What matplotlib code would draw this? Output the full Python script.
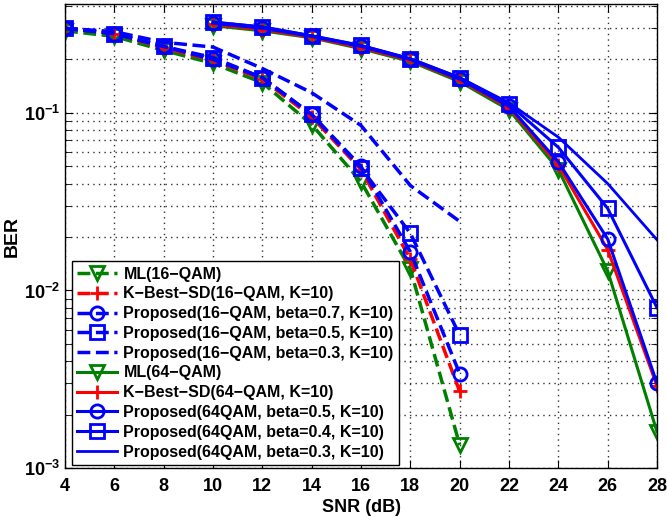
import matplotlib
matplotlib.use("Agg")
import matplotlib.pyplot as plt
from matplotlib.ticker import LogLocator, NullFormatter

plt.rcParams["font.family"] = ["Liberation Sans", "DejaVu Sans"]
plt.rcParams["font.weight"] = "bold"
plt.rcParams["mathtext.fontset"] = "custom"
plt.rcParams["mathtext.rm"] = "Liberation Sans:bold"
plt.rcParams["mathtext.it"] = "Liberation Sans:bold"
plt.rcParams["mathtext.bf"] = "Liberation Sans:bold"

GREEN = "#008000"
RED = "#ff0000"
BLUE = "#0000ff"

# 16-QAM (dashed)
snr16 = [4, 6, 8, 10, 12, 14, 16, 18, 20]
ml16 = [0.29, 0.27, 0.225, 0.19, 0.148, 0.086, 0.041, 0.0132, 0.00135]
kb16 = [0.30, 0.28, 0.233, 0.198, 0.155, 0.095, 0.048, 0.015, 0.0027]
p07_16 = [0.30, 0.28, 0.237, 0.20, 0.158, 0.098, 0.050, 0.0165, 0.0034]
p05_16 = [0.30, 0.28, 0.237, 0.205, 0.158, 0.098, 0.049, 0.021, 0.0056]
p03_16 = [0.30, 0.287, 0.25, 0.235, 0.178, 0.13, 0.085, 0.039, 0.0245]

# 64-QAM (solid)
snr64 = [10, 12, 14, 16, 18, 20, 22, 24, 26, 28]
ml64 = [0.31, 0.29, 0.265, 0.23, 0.195, 0.15, 0.104, 0.048, 0.0129, 0.0016]
kb64 = [0.315, 0.295, 0.267, 0.233, 0.198, 0.153, 0.107, 0.051, 0.017, 0.0029]
p05_64 = [0.32, 0.30, 0.27, 0.237, 0.20, 0.155, 0.109, 0.053, 0.0195, 0.0030]
p04_64 = [0.325, 0.305, 0.272, 0.24, 0.202, 0.158, 0.112, 0.064, 0.029, 0.0080]
p03_64 = [0.325, 0.305, 0.272, 0.24, 0.202, 0.158, 0.114, 0.073, 0.040, 0.0193]

fig = plt.figure(figsize=(6.67, 5.18), dpi=100)
ax = fig.add_axes([0.0975, 0.0965, 0.8875, 0.8955])

mk = dict(markersize=9.5, markerfacecolor="none", markeredgewidth=2)
ax.semilogy(snr16, ml16, "--v", color=GREEN, lw=2.5, label="ML(16\u2212QAM)", **mk)
ax.semilogy(snr16, kb16, "--+", color=RED, lw=2.5, label="K\u2212Best\u2212SD(16\u2212QAM, K=10)", **mk)
ax.semilogy(snr16, p07_16, "--o", color=BLUE, lw=2.5, label="Proposed(16\u2212QAM, beta=0.7, K=10)", **mk)
ax.semilogy(snr16, p05_16, "--s", color=BLUE, lw=2.5, label="Proposed(16\u2212QAM, beta=0.5, K=10)", **mk)
ax.semilogy(snr16, p03_16, "--", color=BLUE, lw=2.5, label="Proposed(16\u2212QAM, beta=0.3, K=10)")
ax.semilogy(snr64, ml64, "-v", color=GREEN, lw=2.2, label="ML(64\u2212QAM)", **mk)
ax.semilogy(snr64, kb64, "-+", color=RED, lw=2.2, label="K\u2212Best\u2212SD(64\u2212QAM, K=10)", **mk)
ax.semilogy(snr64, p05_64, "-o", color=BLUE, lw=2.2, label="Proposed(64QAM, beta=0.5, K=10)", **mk)
ax.semilogy(snr64, p04_64, "-s", color=BLUE, lw=2.2, label="Proposed(64QAM, beta=0.4, K=10)", **mk)
ax.semilogy(snr64, p03_64, "-", color=BLUE, lw=2.0, label="Proposed(64QAM, beta=0.3, K=10)")

ax.set_xlim(4, 28)
ax.set_ylim(1e-3, 0.41)
ax.set_xticks(range(4, 29, 2))
ax.yaxis.set_major_locator(LogLocator(base=10, numticks=10))
ax.yaxis.set_minor_locator(LogLocator(base=10, subs=range(2, 10), numticks=20))
ax.yaxis.set_minor_formatter(NullFormatter())
ax.tick_params(which="both", direction="in", top=True, right=True, labelsize=13)
ax.tick_params(axis="x", pad=7)
ax.tick_params(which="major", length=6)
ax.tick_params(which="minor", length=4)
ax.grid(True, which="major", linestyle=(0, (1, 3)), color="#333333", lw=1.0)
ax.grid(True, which="minor", axis="y", linestyle=(0, (1, 3)), color="#333333", lw=1.0)
for s in ax.spines.values():
    s.set_linewidth(1.0)

ax.set_xlabel("SNR (dB)", fontsize=13, fontweight="bold", labelpad=3)
ax.set_ylabel("BER", fontsize=14, fontweight="bold", labelpad=2)

leg = ax.legend(loc="lower left", bbox_to_anchor=(0.011, 0.006), borderaxespad=0,
                fontsize=11.5, handlelength=2.5, labelspacing=0.3, borderpad=0.35,
                handletextpad=0.4, fancybox=False, framealpha=1, edgecolor="black")
leg.get_frame().set_linewidth(1.0)

fig.savefig("out.png", dpi=100)
